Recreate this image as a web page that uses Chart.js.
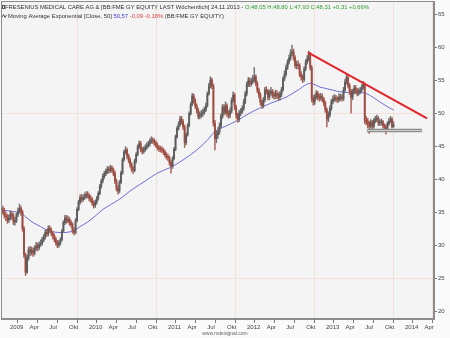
<!DOCTYPE html>
<html>
<head>
<meta charset="utf-8">
<script src="https://cdn.jsdelivr.net/npm/chart.js@4.4.0/dist/chart.umd.min.js"></script>
<style>
body { margin: 0; background: #fafafa; }
</style>
</head>
<body>
<canvas id="myChart" width="450" height="338"></canvas>
<script>
// weekly candles, first week starting Monday 8.12.2008, last one 18.11.2013
var firstWeek = '2008-12-08';

var opens = [
	35.6,35.2,34.6,34.4,33.9,34.2,34.8,34.5,33.6,33.8,
	34.7,35.3,35.7,35.1,32.6,28.6,26.0,28.2,29.4,29.0,
	29.3,28.9,29.6,30.0,29.7,30.2,30.4,30.9,31.3,32.0,
	31.8,32.6,32.4,31.9,31.5,31.0,30.5,30.1,30.4,30.9,
	32.2,33.5,34.2,33.8,34.0,33.5,33.2,32.3,32.0,33.8,
	35.5,36.6,37.3,37.0,37.3,37.5,37.8,37.6,37.2,37.0,
	36.5,36.1,36.6,37.2,37.9,39.0,39.8,40.5,40.9,41.2,
	41.6,41.4,41.8,41.5,41.0,39.8,38.7,38.3,39.6,41.0,
	43.0,44.2,44.5,43.6,43.0,42.3,41.6,41.4,42.8,43.8,
	45.0,45.5,44.6,44.3,44.6,44.9,45.2,45.4,45.8,46.0,
	45.9,45.6,45.3,44.9,44.7,44.6,44.5,44.2,43.8,43.5,
	43.3,42.6,42.0,43.2,44.6,46.5,47.8,48.4,49.2,48.8,
	48.0,45.6,46.8,48.2,50.0,51.4,52.7,52.0,51.2,50.5,
	49.6,49.8,50.0,50.2,50.6,51.2,53.0,54.2,55.1,54.2,
	48.6,46.2,46.8,47.3,48.1,49.6,51.0,50.2,51.2,50.0,
	49.8,50.4,52.0,52.8,51.0,49.8,49.1,50.1,50.3,50.8,
	51.8,53.0,54.4,55.0,54.6,54.9,55.1,55.6,54.6,53.6,
	52.9,51.8,51.2,52.1,53.6,53.4,52.5,53.2,53.4,52.8,
	52.7,53.1,52.8,52.5,53.0,53.6,55.3,56.0,57.0,57.8,
	58.4,59.2,59.4,58.5,57.3,57.4,57.3,56.0,55.6,55.2,
	56.8,57.8,58.3,59.0,57.0,52.3,51.8,52.5,53.1,52.5,
	52.4,52.6,52.2,51.6,50.6,49.2,49.8,50.8,51.8,52.2,
	52.4,52.2,52.1,52.5,52.5,52.3,53.6,54.8,55.5,54.3,
	53.4,52.5,53.3,53.9,53.5,53.1,53.3,53.6,54.0,54.5,
	49.0,48.8,48.6,48.1,48.7,48.1,48.9,49.2,49.3,48.6,
	48.7,48.8,48.2,48.0,47.7,48.5,48.9,49.2,48.05
];
var highs = [
	36.0,35.7,35.1,34.8,34.7,35.3,35.2,34.9,34.3,35.0,
	35.7,36.3,36.0,35.4,32.9,28.9,28.6,29.8,29.9,29.8,
	29.7,30.0,30.5,30.4,30.6,30.9,31.3,31.7,32.4,32.5,
	33.0,33.0,32.7,32.2,31.8,31.3,30.8,30.8,31.2,32.5,
	33.8,34.6,34.6,34.5,34.3,33.9,33.5,32.7,34.1,35.8,
	36.9,37.7,37.8,37.7,38.0,38.2,38.2,37.9,37.6,37.3,
	36.8,36.9,37.5,38.2,39.3,40.1,40.9,41.3,41.6,42.0,
	42.0,42.2,42.1,41.8,41.3,40.1,39.1,39.9,41.3,43.3,
	44.5,45.0,44.8,43.9,43.3,42.6,42.0,43.1,44.1,45.3,
	45.9,45.8,44.9,45.0,45.3,45.6,45.8,46.2,46.5,46.4,
	46.2,45.9,45.6,45.2,45.1,45.0,44.8,44.5,44.1,43.9,
	43.6,42.9,43.5,44.9,46.8,48.1,48.8,49.6,49.6,49.1,
	48.3,47.1,48.5,50.3,51.7,53.1,53.0,52.3,51.5,50.8,
	50.3,50.5,50.7,51.0,51.6,53.3,54.6,55.6,55.4,54.5,
	49.0,47.4,47.9,48.6,50.0,51.4,51.4,51.8,51.5,50.5,
	50.9,52.4,53.3,53.1,51.3,50.1,50.5,50.8,51.2,52.2,
	53.4,54.8,55.5,55.4,55.4,55.8,57.0,55.9,54.9,53.9,
	53.2,52.1,52.5,54.0,54.1,53.7,53.6,54.0,53.7,53.3,
	53.6,53.5,53.2,53.4,54.0,55.6,56.5,57.4,58.2,58.9,
	59.7,60.4,59.8,58.8,58.0,58.0,57.6,56.4,55.9,57.1,
	58.2,58.8,59.5,59.3,57.3,52.8,52.9,53.5,53.4,53.0,
	53.1,53.0,52.5,51.9,50.9,50.3,51.2,52.2,52.7,52.9,
	52.8,52.6,53.0,53.0,52.9,54.0,55.2,56.0,55.8,54.6,
	53.7,53.7,54.3,54.3,53.9,53.8,54.0,54.4,54.9,54.7,
	49.6,49.3,48.9,49.1,49.0,49.3,49.6,49.8,49.6,49.1,
	49.2,49.0,48.5,48.3,48.8,49.3,49.6,49.4,48.80
];
var lows = [
	34.8,34.2,33.8,33.4,33.5,33.9,34.0,33.2,33.1,33.5,
	34.4,35.0,34.6,32.2,28.2,25.5,25.8,27.8,28.5,28.6,
	28.4,28.6,29.3,29.2,29.4,29.9,30.1,30.6,31.0,31.4,
	31.5,32.0,31.5,31.0,30.6,30.1,29.7,29.8,30.1,30.7,
	32.0,33.2,33.4,33.5,33.1,32.8,31.9,31.6,31.8,33.6,
	35.3,36.3,36.6,36.7,37.0,37.2,37.2,36.8,36.6,36.1,
	35.7,35.8,36.3,36.9,37.7,38.7,39.5,40.2,40.6,40.9,
	41.0,41.1,41.1,40.6,39.4,38.3,37.8,38.0,39.4,40.8,
	42.8,43.9,43.2,42.6,41.9,41.2,40.9,41.2,42.5,43.6,
	44.7,44.2,43.9,44.0,44.3,44.6,44.9,45.1,45.5,45.5,
	45.2,44.9,44.5,44.3,44.2,44.1,43.8,43.4,43.1,42.9,
	42.2,41.0,41.7,43.0,44.4,46.3,47.5,48.1,48.4,47.6,
	44.9,45.3,46.6,48.0,49.8,51.2,51.6,50.8,50.1,49.2,
	49.2,49.4,49.6,49.9,50.3,51.0,52.8,53.9,53.8,48.1,
	44.5,45.6,46.3,46.9,47.8,49.3,49.8,49.9,49.5,49.3,
	49.4,50.1,51.7,50.6,49.3,48.7,48.8,49.7,50.0,50.5,
	51.5,52.7,54.1,54.1,54.2,54.5,54.8,54.2,53.2,52.4,
	51.3,50.8,50.9,51.8,53.0,52.1,52.1,52.8,52.4,52.2,
	52.3,52.3,52.0,52.1,52.6,53.4,55.0,55.7,56.7,57.5,
	58.1,58.8,58.1,56.9,56.8,56.8,55.6,55.1,54.7,54.9,
	56.5,57.5,58.0,56.6,51.8,51.3,51.4,52.2,52.1,51.9,
	52.0,51.8,51.2,50.2,48.0,48.8,49.5,50.5,51.5,51.9,
	51.8,51.7,51.8,52.0,51.9,52.0,53.3,54.5,53.9,52.9,
	50.1,52.1,53.0,53.1,52.7,52.8,53.0,53.3,53.7,48.5,
	48.3,47.9,47.0,47.8,47.7,47.8,48.6,48.8,48.2,48.2,
	48.3,47.8,47.5,46.9,47.4,48.2,48.6,47.8,47.93
];
var closes = [
	35.2,34.6,34.4,33.9,34.2,34.8,34.5,33.6,33.8,34.7,
	35.3,35.7,35.1,32.6,28.6,26.0,28.2,29.4,29.0,29.3,
	28.9,29.6,30.0,29.7,30.2,30.4,30.9,31.3,32.0,31.8,
	32.6,32.4,31.9,31.5,31.0,30.5,30.1,30.4,30.9,32.2,
	33.5,34.2,33.8,34.0,33.5,33.2,32.3,32.0,33.8,35.5,
	36.6,37.3,37.0,37.3,37.5,37.8,37.6,37.2,37.0,36.5,
	36.1,36.6,37.2,37.9,39.0,39.8,40.5,40.9,41.2,41.6,
	41.4,41.8,41.5,41.0,39.8,38.7,38.3,39.6,41.0,43.0,
	44.2,44.5,43.6,43.0,42.3,41.6,41.4,42.8,43.8,45.0,
	45.5,44.6,44.3,44.6,44.9,45.2,45.4,45.8,46.0,45.9,
	45.6,45.3,44.9,44.7,44.6,44.5,44.2,43.8,43.5,43.3,
	42.6,42.0,43.2,44.6,46.5,47.8,48.4,49.2,48.8,48.0,
	45.6,46.8,48.2,50.0,51.4,52.7,52.0,51.2,50.5,49.6,
	49.8,50.0,50.2,50.6,51.2,53.0,54.2,55.1,54.2,48.6,
	46.2,46.8,47.3,48.1,49.6,51.0,50.2,51.2,50.0,49.8,
	50.4,52.0,52.8,51.0,49.8,49.1,50.1,50.3,50.8,51.8,
	53.0,54.4,55.0,54.6,54.9,55.1,55.6,54.6,53.6,52.9,
	51.8,51.2,52.1,53.6,53.4,52.5,53.2,53.4,52.8,52.7,
	53.1,52.8,52.5,53.0,53.6,55.3,56.0,57.0,57.8,58.4,
	59.2,59.4,58.5,57.3,57.4,57.3,56.0,55.6,55.2,56.8,
	57.8,58.3,59.0,57.0,52.3,51.8,52.5,53.1,52.5,52.4,
	52.6,52.2,51.6,50.6,49.2,49.8,50.8,51.8,52.2,52.4,
	52.2,52.1,52.5,52.5,52.3,53.6,54.8,55.5,54.3,53.4,
	52.5,53.3,53.9,53.5,53.1,53.3,53.6,54.0,54.5,49.0,
	48.8,48.6,48.1,48.7,48.1,48.9,49.2,49.3,48.6,48.7,
	48.8,48.2,48.0,47.7,48.5,48.9,49.2,48.0,48.31
];

// EMA 50 at some weeks
var emaWeeks = [0,6,12,16,20,25,28,33,40,47,51,56,61,66,71,78,84,94,102,111,119,128,135,140,147,155,163,170,177,187,195,203,210,214,221,228,232,238,243,247,253,258];
var emaValues = [35.4,35.2,34.9,34.2,33.5,32.9,32.5,32.1,32.0,32.3,32.9,33.6,34.5,35.5,36.2,37.2,38.3,39.8,41.0,41.9,43.0,44.5,46.0,47.3,48.1,49.0,50.1,50.9,51.6,52.5,53.6,54.6,54.0,53.8,53.4,53.2,53.1,53.2,52.7,52.1,51.2,50.57];

// drawn lines
var trendDates = ['2012-10-18', '2014-04-22'];
var trendValues = [59.3, 49.3];
var supportDates = ['2013-07-18', '2014-03-30'];
var supportValues = [47.45, 47.45];

var yTicks = [20, 25, 30, 35, 40, 45, 50, 55, 60, 65];
var tickYears = [2009, 2010, 2011, 2012, 2013, 2014];
var monthNames = ['Apr', 'Jul', 'Okt'];

var xMin = 2008.9114, xMax = 2014.392;
var yMin = 18.9, yMax = 67.08;

function parseDay(s) {
	var p = s.split('-');
	return new Date(+p[0], +p[1] - 1, +p[2]);
}
function toYear(d) {
	var y = d.getFullYear();
	var a = new Date(y, 0, 1), b = new Date(y + 1, 0, 1);
	return y + (d - a) / (b - a);
}

var start = parseDay(firstWeek);
var weekX = closes.map(function (c, i) {
	return toYear(new Date(start.getFullYear(), start.getMonth(), start.getDate() + 7 * i));
});

var xTicks = [];
tickYears.forEach(function (y) {
	xTicks.push({ value: toYear(new Date(y, 0, 1)), label: String(y) });
	monthNames.forEach(function (m, k) {
		var v = toYear(new Date(y, 3 + 3 * k, 1));
		if (v < xMax) xTicks.push({ value: v, label: m });
	});
});

var upColor = '#5c5c5c', downColor = '#a04a40';
function candleColor(c) {
	var i = c.dataIndex;
	return closes[i] >= opens[i] ? upColor : downColor;
}
function wickColor(c) {
	var i = c.dataIndex;
	return closes[i] >= opens[i] ? '#707070' : '#a86056';
}

var framePlugin = {
	id: 'frame',
	beforeDraw: function (chart) {
		var c = chart.ctx, a = chart.chartArea;
		c.save();
		c.fillStyle = '#fafafa';
		c.fillRect(0, 0, chart.width, chart.height);
		c.fillStyle = '#f4f4f4';
		c.fillRect(a.left, a.top, a.right - a.left, a.bottom - a.top);
		c.restore();
	},
	afterDraw: function (chart) {
		var c = chart.ctx, a = chart.chartArea;
		c.save();
		c.strokeStyle = '#8c8c8c';
		c.lineWidth = 1;
		c.strokeRect(a.left + 0.5, a.top + 0.5, a.right - a.left - 1, a.bottom - a.top - 1);

		function segs(list, x, y) {
			list.forEach(function (s) {
				c.fillStyle = s[1];
				c.fillText(s[0], x, y);
				x += c.measureText(s[0]).width;
			});
		}
		c.textBaseline = 'middle';
		c.font = '6px "Liberation Sans"';
		var first = 'FRESENIUS MEDICAL CARE AG & [BB:FME GY EQUITY LAST Wöchentlich] 24.11.2013 - ';
		var size = 6 * 240 / c.measureText(first).width;
		c.font = size.toFixed(2) + 'px "Liberation Sans"';
		segs([[first, '#333'], ['O:48,05 H:48,80 L:47,93 C:48,31 +0,31 +0,66%', '#2e9a2e']], 5, 7);
		segs([['Moving Average Exponential [Close, 50] ', '#333'], ['50,57', '#3a3ad0'],
			[' -0,09 -0,18%', '#e04040'], [' (BB:FME GY EQUITY)', '#333']], 8, 16);

		// little icons in front of the two legend lines
		c.strokeStyle = '#555';
		c.strokeRect(2.5, 5.5, 2, 3);
		c.beginPath();
		c.moveTo(2, 17); c.lineTo(3.5, 14.5); c.lineTo(5, 17.5); c.lineTo(6.5, 15);
		c.stroke();

		c.font = '5px "Liberation Sans"';
		c.textAlign = 'center';
		c.fillStyle = '#666';
		c.fillText('www.mdesignal.com', 225, 334);
		c.restore();
	}
};

var ctx = document.getElementById('myChart').getContext('2d');

var candleChart = new Chart(ctx, {
	type: 'bar',
	data: {
		datasets: [{
			type: 'line',
			data: emaWeeks.map(function (w, k) { return { x: weekX[w], y: emaValues[k] }; }),
			borderColor: '#6d6dd8',
			borderWidth: 1,
			pointRadius: 0,
			cubicInterpolationMode: 'monotone',
			order: 5
		}, {
			data: weekX.map(function (x, i) { return { x: x, y: [lows[i], highs[i]] }; }),
			backgroundColor: wickColor,
			barThickness: 0.8,
			grouped: false,
			order: 4
		}, {
			data: weekX.map(function (x, i) { return { x: x, y: [opens[i], closes[i]] }; }),
			backgroundColor: candleColor,
			barThickness: 1.2,
			minBarLength: 1,
			grouped: false,
			order: 3
		}, {
			type: 'line',
			data: supportDates.map(function (d, k) { return { x: toYear(parseDay(d)), y: supportValues[k] }; }),
			borderColor: '#8a8a8a',
			borderWidth: 3.5,
			pointRadius: 0,
			order: 2
		}, {
			type: 'line',
			data: supportDates.map(function (d, k) { return { x: toYear(parseDay(d)), y: supportValues[k] }; }),
			borderColor: '#d4d4d4',
			borderWidth: 1,
			pointRadius: 0,
			order: 1
		}, {
			type: 'line',
			data: trendDates.map(function (d, k) { return { x: toYear(parseDay(d)), y: trendValues[k] }; }),
			borderColor: '#e2252b',
			borderWidth: 2,
			pointRadius: 0,
			order: 0
		}]
	},
	options: {
		responsive: false,
		animation: false,
		events: [],
		layout: { padding: { left: 1, top: 1, right: 0, bottom: 0 } },
		plugins: { legend: { display: false }, tooltip: { enabled: false } },
		scales: {
			x: {
				type: 'linear',
				min: xMin,
				max: xMax,
				offset: false,
				afterBuildTicks: function (s) { s.ticks = xTicks.map(function (t) { return { value: t.value }; }); },
				afterFit: function (s) { s.height = 19; s.paddingLeft = 0; s.paddingRight = 0; },
				grid: {
					color: function (c) {
						var v = c.tick ? c.tick.value : 0;
						return Math.abs(v - Math.round(v)) < 1e-6 ? '#efe2da' : 'rgba(0,0,0,0)';
					},
					tickColor: '#7a7a7a',
					tickLength: 4
				},
				border: { color: '#8c8c8c' },
				ticks: {
					autoSkip: false,
					maxRotation: 0,
					align: 'start',
					padding: 1,
					labelOffset: 2,
					color: '#444',
					font: { family: 'Liberation Sans', size: 6 },
					callback: function (v, i) { return xTicks[i] ? xTicks[i].label : ''; }
				}
			},
			y: {
				position: 'right',
				min: yMin,
				max: yMax,
				afterBuildTicks: function (s) { s.ticks = yTicks.map(function (v) { return { value: v }; }); },
				afterFit: function (s) { s.width = 16; s.paddingTop = 0; s.paddingBottom = 0; },
				grid: {
					color: function (c) {
						var v = c.tick ? c.tick.value : 0;
						return (v === 50 || v === 25) ? '#f1e3da' : 'rgba(0,0,0,0)';
					},
					tickColor: '#7a7a7a',
					tickLength: 3
				},
				border: { color: '#8c8c8c' },
				ticks: {
					padding: 1,
					color: '#444',
					font: { family: 'Liberation Sans', size: 6 }
				}
			}
		}
	},
	plugins: [framePlugin]
});
</script>
</body>
</html>
